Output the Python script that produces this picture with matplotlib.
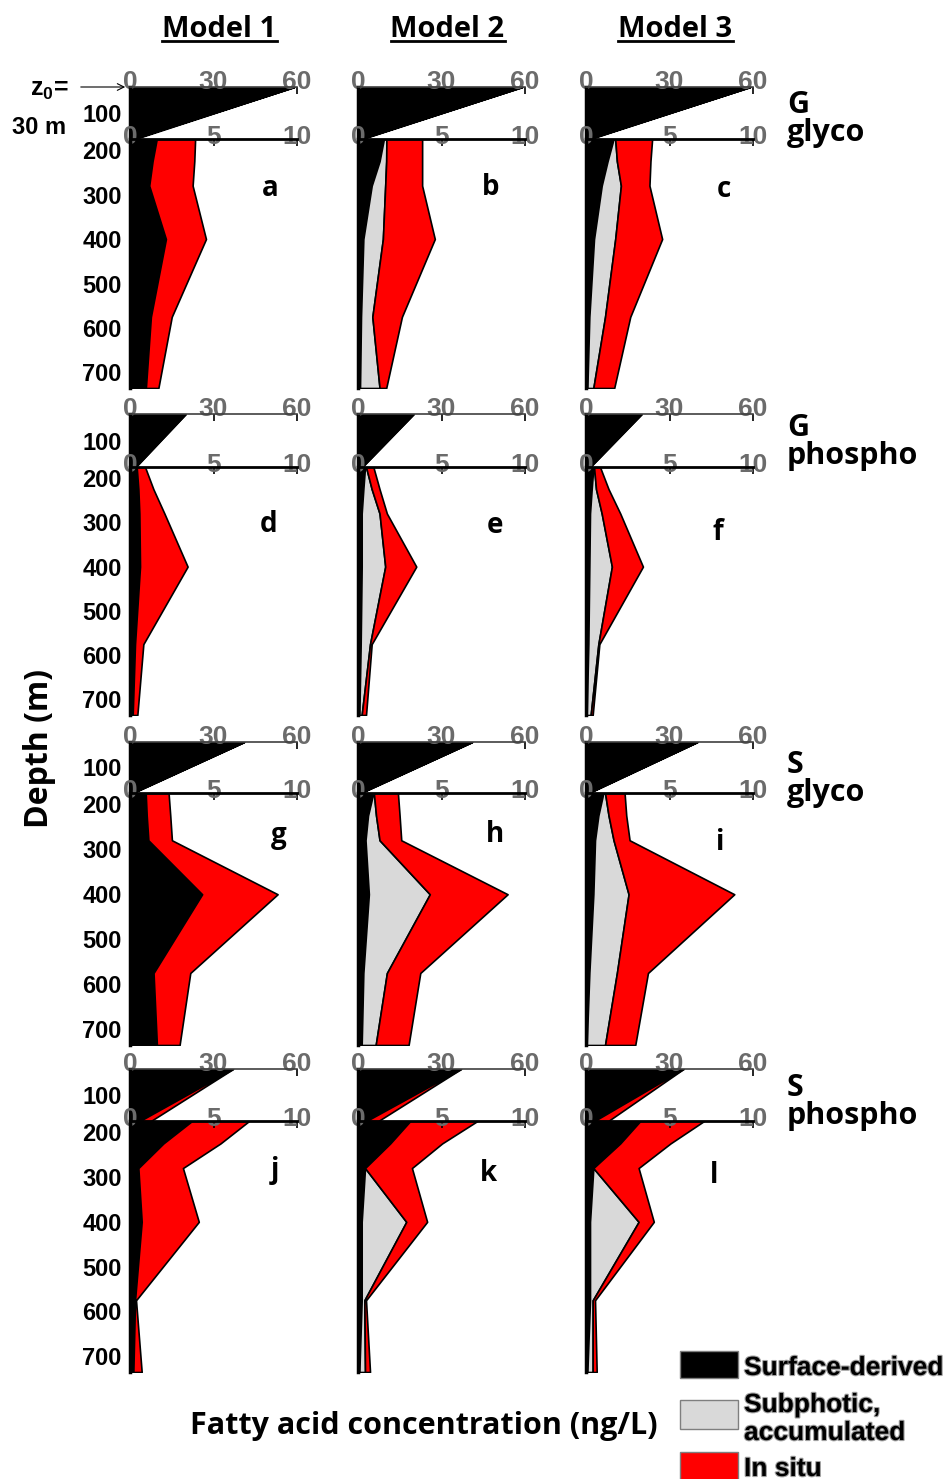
import numpy as np
import matplotlib.pyplot as plt
import matplotlib.patheffects as pe
from matplotlib.patches import Rectangle, FancyArrowPatch
from matplotlib.lines import Line2D

plt.rcParams['font.family'] = 'Liberation Sans'
plt.rcParams['font.weight'] = 'bold'
plt.rcParams['mathtext.fontset'] = 'custom'
plt.rcParams['mathtext.rm'] = 'Liberation Sans:bold'
plt.rcParams['mathtext.it'] = 'Liberation Sans:bold'

W, H = 952, 1479

# depth nodes (m) of the shallow (0-60 ng/L) and deep (0-10 ng/L) profiles
upper_depth = [30, 170]
lower_depth = [175, 225, 280, 400, 575, 735]

models = ['Model 1', 'Model 2', 'Model 3']
groups = ['G\nglyco', 'G\nphospho', 'S\nglyco', 'S\nphospho']
letters = list('abcdefghijkl')
layer_names = ['Surface-derived', 'Subphotic,\naccumulated', 'In situ']
layer_colors = ['black', '#d9d9d9', 'red']

# shallow profiles: surface-derived, in situ
a_up_surf, a_up_situ = [59, 1.0], [0, 0.8]
b_up_surf, b_up_situ = [59, 1.0], [0, 0.5]
c_up_surf, c_up_situ = [59, 1.0], [0, 0.5]
d_up_surf, d_up_situ = [20, 2.0], [0, 0]
e_up_surf, e_up_situ = [20, 1.5], [0, 0]
f_up_surf, f_up_situ = [20, 1.5], [0, 0]
g_up_surf, g_up_situ = [41, 0.8], [0, 0.3]
h_up_surf, h_up_situ = [41, 0.8], [0, 0.3]
i_up_surf, i_up_situ = [40, 0.8], [0, 0.3]
j_up_surf, j_up_situ = [37, 3.5], [0, 4.0]
k_up_surf, k_up_situ = [37, 3.0], [0, 4.3]
l_up_surf, l_up_situ = [35, 3.0], [0, 5.0]

# deep profiles: surface-derived, subphotic accumulated, in situ
a_surf = [1.6, 1.35, 1.15, 2.15, 1.25, 0.95]
a_sub = [0, 0, 0, 0, 0, 0]
a_situ = [2.3, 2.5, 2.6, 2.4, 1.25, 0.75]
b_surf = [1.55, 1.29, 0.82, 0.32, 0.18, 0.12]
b_sub = [0.15, 0.4, 0.81, 1.17, 0.68, 1.17]
b_situ = [2.14, 2.15, 2.21, 3.11, 1.77, 0.4]
c_surf = [1.65, 1.29, 0.94, 0.48, 0.2, 0.08]
c_sub = [0.1, 0.56, 1.15, 1.27, 0.94, 0.36]
c_situ = [2.21, 2.01, 1.71, 2.81, 1.51, 1.25]
d_surf = [0.4, 0.5, 0.56, 0.6, 0.3, 0.16]
d_sub = [0, 0, 0, 0, 0, 0]
d_situ = [0.5, 0.9, 1.5, 2.85, 0.5, 0.28]
e_surf = [0.42, 0.32, 0.22, 0.22, 0.16, 0.08]
e_sub = [0.06, 0.5, 1.07, 1.41, 0.56, 0.14]
e_situ = [0.44, 0.47, 0.44, 1.86, 0.1, 0.26]
f_surf = [0.44, 0.34, 0.24, 0.2, 0.14, 0.04]
f_sub = [0.04, 0.26, 0.7, 1.35, 0.6, 0.24]
f_situ = [0.36, 0.75, 1.11, 1.86, 0.06, 0.12]
g_surf = [0.94, 1.0, 1.1, 4.32, 1.41, 1.61]
g_sub = [0, 0, 0, 0, 0, 0]
g_situ = [1.37, 1.41, 1.41, 4.52, 2.2, 1.36]
h_surf = [0.92, 0.6, 0.45, 0.65, 0.32, 0.22]
h_sub = [0.03, 0.48, 0.84, 3.65, 1.41, 0.84]
h_situ = [1.44, 1.41, 1.3, 4.66, 2.0, 1.97]
i_surf = [1.04, 0.74, 0.54, 0.44, 0.2, 0.04]
i_sub = [0.1, 0.61, 1.11, 2.11, 1.65, 1.1]
i_situ = [1.17, 1.06, 0.96, 6.33, 1.86, 1.81]
j_surf = [3.71, 2.0, 0.5, 0.7, 0.3, 0.2]
j_sub = [0, 0, 0, 0, 0, 0]
j_situ = [3.42, 3.42, 2.67, 3.42, 0.06, 0.5]
k_surf = [3.13, 1.93, 0.42, 0.22, 0.22, 0.08]
k_sub = [0, 0, 0, 2.67, 0.16, 0.34]
k_situ = [4.02, 3.11, 2.81, 1.25, 0.1, 0.3]
l_surf = [3.25, 2.05, 0.44, 0.24, 0.24, 0.08]
l_sub = [0, 0, 0, 2.91, 0.16, 0.32]
l_situ = [3.82, 3.01, 2.71, 0.91, 0.14, 0.24]

upper_sets = [
    (a_up_surf, a_up_situ), (b_up_surf, b_up_situ), (c_up_surf, c_up_situ),
    (d_up_surf, d_up_situ), (e_up_surf, e_up_situ), (f_up_surf, f_up_situ),
    (g_up_surf, g_up_situ), (h_up_surf, h_up_situ), (i_up_surf, i_up_situ),
    (j_up_surf, j_up_situ), (k_up_surf, k_up_situ), (l_up_surf, l_up_situ),
]
lower_sets = [
    (a_surf, a_sub, a_situ), (b_surf, b_sub, b_situ), (c_surf, c_sub, c_situ),
    (d_surf, d_sub, d_situ), (e_surf, e_sub, e_situ), (f_surf, f_sub, f_situ),
    (g_surf, g_sub, g_situ), (h_surf, h_sub, h_situ), (i_surf, i_sub, i_situ),
    (j_surf, j_sub, j_situ), (k_surf, k_sub, k_situ), (l_surf, l_sub, l_situ),
]

# panel grid in pixels
col_x = [130, 358, 586]
col_w = 167
row_top = [87, 414, 742, 1069]
row_mid = [139, 467, 793, 1121]
row_bot = [388, 715, 1045, 1372]

letter_x = [270, 491, 724, 269, 495, 718, 279, 495, 720, 275, 488, 714]
letter_y = [196, 195, 197, 532, 533, 540, 843, 842, 850, 1178, 1181, 1183]

TICK_GREY = '#6b6b6b'


def fx(x):
    return x / W


def fy(y):
    return 1 - y / H


def box(x0, y_top, y_bot):
    return [fx(x0), fy(y_bot), col_w / W, (y_bot - y_top) / H]


def stack(ax, depth, layers, colors):
    left = np.zeros(len(depth))
    for vals, color in zip(layers, colors):
        right = left + np.asarray(vals, dtype=float)
        ax.fill_betweenx(depth, left, right, facecolor=color,
                         edgecolor='black', linewidth=1.2)
        left = right


def style(ax, top_color, top_lw, pad):
    ax.set_facecolor('none')
    for side in ('right', 'bottom'):
        ax.spines[side].set_visible(False)
    ax.spines['left'].set_linewidth(2.5)
    ax.spines['left'].set_color('black')
    ax.spines['top'].set_linewidth(top_lw)
    ax.spines['top'].set_color(top_color)
    ax.xaxis.tick_top()
    ax.tick_params(axis='x', direction='in', length=5, width=1.2,
                   pad=pad, labelsize=19, labelcolor=TICK_GREY)
    ax.tick_params(axis='y', length=0, pad=6, labelsize=17)


fig = plt.figure(figsize=(W / 100, H / 100), dpi=100)

for n in range(12):
    r, c = divmod(n, 3)

    ax_up = fig.add_axes(box(col_x[c], row_top[r], row_mid[r]))
    stack(ax_up, upper_depth, upper_sets[n], ['black', 'red'])
    ax_up.set_xlim(0, 60)
    ax_up.set_ylim(170, 30)
    ax_up.set_xticks([0, 30, 60])
    style(ax_up, '#404040', 1.2, -4.8)

    ax_lo = fig.add_axes(box(col_x[c], row_mid[r], row_bot[r]))
    stack(ax_lo, lower_depth, lower_sets[n], layer_colors)
    ax_lo.set_xlim(0, 10)
    ax_lo.set_ylim(735, 175)
    ax_lo.set_xticks([0, 5, 10])
    style(ax_lo, 'black', 2.0, -7.0)

    if c == 0:
        ax_up.set_yticks([100])
        ax_lo.set_yticks([200, 300, 400, 500, 600, 700])
    else:
        ax_up.set_yticks([])
        ax_lo.set_yticks([])

    fig.text(fx(letter_x[n]), fy(letter_y[n]), letters[n], family='Open Sans',
             fontsize=20, fontweight='bold', ha='center', va='baseline')

# column headings, underlined
fig.canvas.draw()
renderer = fig.canvas.get_renderer()
for c, name in enumerate(models):
    cx = col_x[c] + col_w / 2 + 6
    t = fig.text(fx(cx), fy(37), name, family='Open Sans', fontsize=21,
                 fontweight='bold', ha='center', va='baseline')
    bb = t.get_window_extent(renderer)
    fig.add_artist(Line2D([bb.x0 / W, bb.x1 / W], [fy(41), fy(41)],
                          color='black', lw=2))

# lipid class labels on the right (bottom edge of the two-line block)
group_bottom = [148, 471, 808, 1131]
for label, yb in zip(groups, group_bottom):
    fig.text(fx(787), fy(yb), label, family='Open Sans', fontsize=22,
             fontweight='bold', ha='left', va='bottom', linespacing=0.9)

# z0 marker
fig.text(fx(69), fy(96), r'z$_0$=', fontsize=18, ha='right', va='baseline')
fig.text(fx(66), fy(134), '30 m', fontsize=17, ha='right', va='baseline')
fig.add_artist(FancyArrowPatch((fx(78), fy(87)), (fx(128), fy(87)),
                               transform=fig.transFigure, arrowstyle='->',
                               mutation_scale=12, lw=0.8, color='black'))

# axis titles
fig.text(fx(40), fy(748), 'Depth (m)', family='Open Sans', fontsize=23,
         fontweight='bold', rotation=90, ha='center', va='center')
fig.text(fx(424), fy(1426), 'Fatty acid concentration (ng/L)',
         family='Open Sans', fontsize=22, fontweight='bold',
         ha='center', va='center')

# legend
halo = [pe.withStroke(linewidth=1.6, foreground='#a0a0a0')]
legend_boxes = [(1351, 1378), (1400, 1429), (1452, 1482)]
legend_text = [[(1375, 'Surface-derived')],
               [(1412, 'Subphotic,'), (1440, 'accumulated')],
               [(1476, 'In situ')]]
for color, (y0, y1), lines in zip(layer_colors, legend_boxes, legend_text):
    fig.add_artist(Rectangle((fx(680), fy(y1)), 58 / W, (y1 - y0) / H,
                             transform=fig.transFigure, facecolor=color,
                             edgecolor='#7f7f7f', lw=1))
    for yb, s in lines:
        fig.text(fx(744), fy(yb), s, fontsize=19, ha='left', va='baseline',
                 path_effects=halo)

fig.savefig('out.png', dpi=100)
